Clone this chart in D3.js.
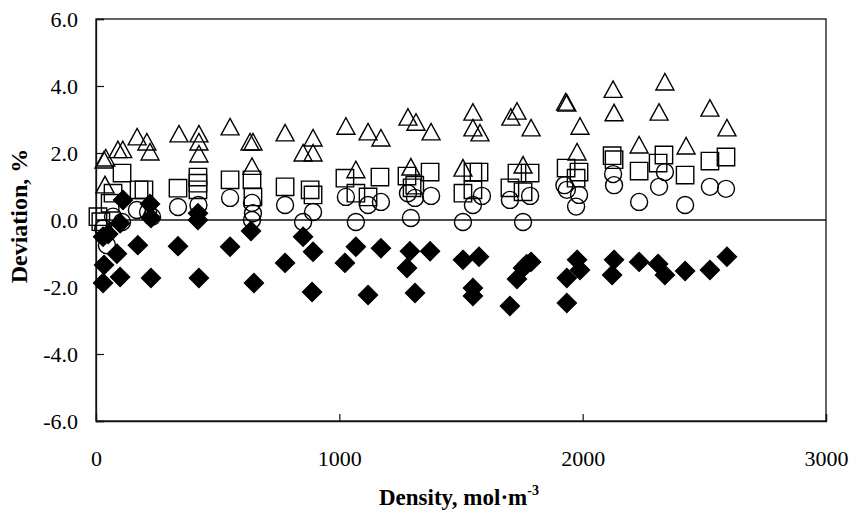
<!DOCTYPE html>
<html>
<head>
<meta charset="utf-8">
<script src="https://cdn.jsdelivr.net/npm/d3@7"></script>
<style>
  body { margin: 0; background: #fff; }
  svg text { font-family: "Liberation Serif", "Times New Roman", serif; fill: #000; }
</style>
</head>
<body>
<script>
var width = 850;
var height = 515;

// density (mol/m3), deviation (%)
var triangles = [
  [33,1.79],[40,1.85],[37,1.05],[90,2.1],[110,2.1],[169,2.48],[209,2.33],[222,2.03],
  [341,2.57],[423,2.57],[423,2.33],[423,1.97],[551,2.78],[633,2.33],[645,2.33],[641,1.6],
  [777,2.6],[892,2.45],[851,2.0],[892,2.0],[1027,2.8],[1118,2.63],[1171,2.45],[1068,1.5],
  [1282,3.07],[1315,2.92],[1377,2.63],[1294,1.58],[1549,3.22],[1549,2.75],[1578,2.6],[1508,1.55],
  [1705,3.07],[1730,3.25],[1788,2.75],[1755,1.64],[1935,3.49],[1930,3.52],[1989,2.8],[1977,2.03],
  [2125,3.9],[2129,3.2],[2338,4.12],[2314,3.22],[2232,2.24],[2425,2.21],[2523,3.34],[2593,2.75]
];
var squares = [
  [8,0.1],[20,-0.05],[58,0.5],[70,0.8],[107,1.4],[177,0.9],[197,0.9],[337,0.95],
  [419,1.28],[419,1.1],[419,0.9],[551,1.2],[641,1.2],[645,0.69],[777,0.99],[880,0.9],
  [892,0.75],[1023,1.25],[1167,1.28],[1068,0.8],[1118,0.69],[1278,1.31],[1373,1.43],[1299,0.96],
  [1310,1.04],[1549,1.43],[1574,1.43],[1508,0.8],[1549,0.9],[1730,1.4],[1784,1.4],[1701,0.96],
  [1755,0.84],[1932,1.55],[1985,1.43],[1973,1.25],[2121,1.92],[2129,1.8],[2232,1.46],[2334,1.94],
  [2310,1.7],[2421,1.34],[2523,1.76],[2589,1.88]
];
var circles = [
  [45,-0.75],[30,-0.25],[70,0.1],[107,-0.06],[168,0.3],[214,0.24],[230,0.1],[337,0.39],
  [421,0.45],[551,0.66],[641,0.51],[645,0.2],[641,0.0],[777,0.45],[851,-0.06],[892,0.24],
  [1027,0.69],[1068,-0.06],[1118,0.45],[1171,0.54],[1282,0.8],[1294,0.06],[1311,0.66],[1377,0.72],
  [1508,-0.06],[1549,0.45],[1586,0.72],[1701,0.6],[1755,-0.06],[1784,0.72],[1935,0.9],[1925,1.04],
  [1985,0.75],[1973,0.4],[2125,1.37],[2129,1.04],[2232,0.54],[2338,1.43],[2314,0.99],[2421,0.45],
  [2523,0.99],[2589,0.93]
];
var diamonds = [
  [29,-1.88],[33,-1.34],[99,-1.7],[226,-1.73],[423,-1.73],[649,-1.88],[777,-1.28],[86,-1.01],
  [172,-0.75],[337,-0.78],[551,-0.8],[637,-0.33],[29,-0.5],[50,-0.42],[99,-0.1],[111,0.6],
  [222,0.48],[226,0.06],[419,0.2],[419,0.0],[851,-0.5],[892,-0.95],[888,-2.15],[1023,-1.28],
  [1068,-0.8],[1171,-0.84],[1118,-2.24],[1290,-0.93],[1373,-0.93],[1278,-1.43],[1311,-2.18],[1508,-1.19],
  [1574,-1.1],[1549,-2.03],[1549,-2.27],[1701,-2.57],[1788,-1.25],[1770,-1.32],[1755,-1.43],[1730,-1.76],
  [1935,-1.73],[1935,-2.48],[1977,-1.19],[1989,-1.49],[2129,-1.19],[2121,-1.64],[2232,-1.25],[2310,-1.31],
  [2338,-1.64],[2421,-1.52],[2523,-1.49],[2593,-1.1]
];

var xTicks = [0, 1000, 2000, 3000];
var yTicks = [-6, -4, -2, 0, 2, 4, 6];

var svg = d3.select('body').append('svg').attr('width', width).attr('height', height);

var x = d3.scaleLinear().domain([0, 3000]).range([96, 826]);
var y = d3.scaleLinear().domain([-6, 6]).range([421, 19]);

// frame
svg.append('rect')
  .attr('x', x(0)).attr('y', y(6))
  .attr('width', x(3000) - x(0)).attr('height', y(-6) - y(6))
  .attr('fill', 'none').attr('stroke', '#111').attr('stroke-width', 1.3);

// y axis
var yAxis = svg.append('g')
  .attr('transform', 'translate(' + x(0) + ',0)')
  .call(d3.axisLeft(y).tickValues(yTicks).tickSize(-8).tickPadding(18)
    .tickFormat(function(d){ return d.toFixed(1); }));
yAxis.select('.domain').attr('stroke', '#111').attr('stroke-width', 1.3);
yAxis.selectAll('line').attr('stroke', '#111').attr('stroke-width', 1.2);
yAxis.selectAll('text').style('font-size', '22px').style('font-family', '"Liberation Serif", serif');

// x axis at the bottom
var xAxis = svg.append('g')
  .attr('transform', 'translate(0,' + y(-6) + ')')
  .call(d3.axisBottom(x).tickValues(xTicks).tickSize(-7).tickPadding(29)
    .tickFormat(d3.format('d')));
xAxis.select('.domain').attr('stroke', '#111').attr('stroke-width', 1.3);
xAxis.selectAll('line').attr('stroke', '#111').attr('stroke-width', 1.2);
xAxis.selectAll('text').style('font-size', '22px').style('font-family', '"Liberation Serif", serif');

// zero line
svg.append('line')
  .attr('x1', x(0)).attr('x2', x(3000))
  .attr('y1', y(0)).attr('y2', y(0))
  .attr('stroke', '#111').attr('stroke-width', 1.3);

// markers
var shapes = {
  circle: 'M8.5,0A8.5,8.5 0 1,1 -8.5,0A8.5,8.5 0 1,1 8.5,0Z',
  square: 'M-8.7,-8.7H8.7V8.7H-8.7Z',
  triangle: 'M-9,8L9,8L0,-8.5Z',
  diamond: 'M0,-9.5L9.5,0L0,9.5L-9.5,0Z'
};

var drawSeries = function(data, shape, filled){
  svg.append('g').selectAll('path')
    .data(data)
    .enter()
    .append('path')
    .attr('d', shapes[shape])
    .attr('transform', function(d){ return 'translate(' + x(d[0]) + ',' + y(d[1]) + ')'; })
    .attr('fill', filled ? '#000' : 'none')
    .attr('stroke', '#000')
    .attr('stroke-width', 1.4);
};

drawSeries(circles, 'circle', false);
drawSeries(squares, 'square', false);
drawSeries(triangles, 'triangle', false);
drawSeries(diamonds, 'diamond', true);

// axis titles
var xt = svg.append('text')
  .attr('x', 379).attr('y', 505)
  .style('font-size', '23px').style('font-weight', 'bold');
xt.append('tspan').text('Density, mol\u00b7m');
xt.append('tspan').attr('dy', -10).style('font-size', '14px').text('-3');

svg.append('text')
  .attr('transform', 'translate(27,216) rotate(-90)')
  .attr('text-anchor', 'middle')
  .style('font-size', '24px').style('font-weight', 'bold')
  .text('Deviation, %');
</script>
</body>
</html>
